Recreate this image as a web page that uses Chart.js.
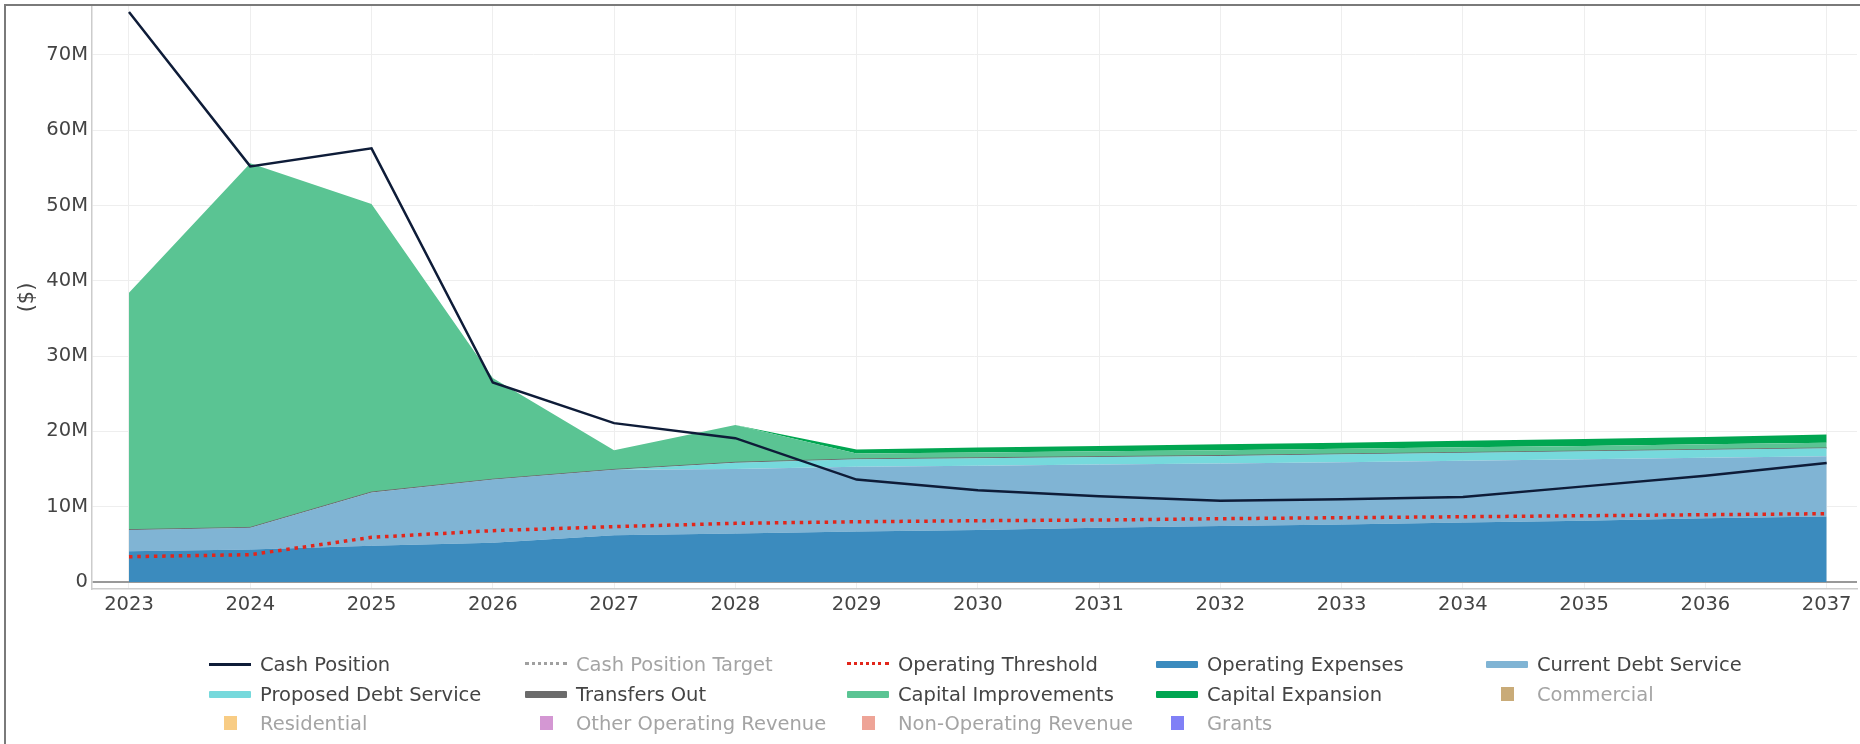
<!DOCTYPE html>
<html>
<head>
<meta charset="utf-8">
<script src="https://cdn.jsdelivr.net/npm/chart.js@4.4.1/dist/chart.umd.min.js"></script>
<style>
  html, body { margin: 0; padding: 0; background: #fff; }
  #wrap { position: relative; width: 1860px; height: 744px; overflow: hidden; }
  #frame { position: absolute; left: 4px; top: 4px; right: -10px; bottom: -10px;
           border-left: 2px solid #7a7a7a; border-top: 2px solid #7a7a7a; pointer-events: none; }
  #legend { position: absolute; left: 0; top: 0; width: 1860px; height: 744px; pointer-events: none;
            font-family: "DejaVu Sans", Verdana, sans-serif; font-size: 19.5px; color: #444; }
  .item { position: absolute; height: 26px; display: flex; align-items: center; white-space: nowrap;
          pointer-events: auto; cursor: pointer; }
  .item.off span { color: #a4a4a4; }
  .sym { width: 42px; height: 26px; margin-right: 9px; position: relative; }
</style>
</head>
<body>
<div id="wrap">
  <canvas id="cashChart" width="1860" height="744"></canvas>
  <div id="legend"></div>
  <div id="frame"></div>
</div>
<script>
// Years on the x axis
let years = [2023, 2024, 2025, 2026, 2027, 2028, 2029, 2030, 2031, 2032, 2033, 2034, 2035, 2036, 2037];

// Lines ($M)
let cashPosition       = [75.7, 55.2, 57.6, 26.5, 21.1, 19.1, 13.6, 12.2, 11.4, 10.8, 11.0, 11.3, 12.7, 14.1, 15.8];
let operatingThreshold = [3.36, 3.63, 5.93, 6.82, 7.35, 7.79, 8.0, 8.14, 8.23, 8.41, 8.54, 8.67, 8.8, 8.94, 9.07];

// Stacked areas ($M)
let operatingExpenses   = [4.1, 4.3, 4.8, 5.2, 6.2, 6.45, 6.7, 6.9, 7.2, 7.45, 7.65, 7.9, 8.15, 8.45, 8.7];
let currentDebtService  = [2.8, 2.9, 7.1, 8.4, 8.7, 8.55, 8.6, 8.55, 8.4, 8.3, 8.25, 8.2, 8.15, 8.05, 8.0];
let proposedDebtService = [0, 0, 0, 0, 0, 0.85, 1.0, 1.0, 1.0, 1.0, 1.05, 1.05, 1.05, 1.05, 1.05];
let transfersOut        = [0.05, 0.05, 0.05, 0.05, 0.05, 0.05, 0.05, 0.05, 0.05, 0.05, 0.05, 0.05, 0.05, 0.05, 0.05];
let capitalImprovements = [31.45, 48.35, 38.25, 13.45, 2.55, 4.95, 0.7, 0.7, 0.7, 0.7, 0.7, 0.7, 0.65, 0.7, 0.7];
let capitalExpansion    = [0, 0, 0, 0, 0, 0, 0.55, 0.65, 0.7, 0.8, 0.8, 0.85, 0.95, 0.95, 1.1];

// Y ticks
let yTicks = [0, 10, 20, 30, 40, 50, 60, 70];

// Legend grid
let legendCols = [209, 525, 847, 1156, 1486];
let legendRows = [664, 694, 723];

function pts(vals) {
  return years.map((y, i) => ({ x: y, y: vals[i] * 1e6 }));
}

function area(label, vals, color, fill) {
  return {
    label, data: pts(vals), stack: 'costs', fill,
    backgroundColor: color, borderColor: color, borderWidth: 0,
    pointRadius: 0, sym: 'area'
  };
}

function hiddenBar(label, color) {
  return { label, data: [], hidden: true, stack: label, backgroundColor: color,
           borderColor: color, sym: 'square' };
}

let datasets = [
  { label: 'Cash Position', data: pts(cashPosition), stack: 'cash', fill: false,
    borderColor: '#0e1c38', backgroundColor: '#0e1c38', borderWidth: 2.5, pointRadius: 0, sym: 'line' },
  { label: 'Cash Position Target', data: [], hidden: true, stack: 'target', fill: false,
    borderColor: '#a0a0a0', backgroundColor: '#a0a0a0', borderWidth: 3, borderDash: [3, 4],
    pointRadius: 0, sym: 'dot' },
  { label: 'Operating Threshold', data: pts(operatingThreshold), stack: 'threshold', fill: false,
    borderColor: '#e2261b', backgroundColor: '#e2261b', borderWidth: 3.5, borderDash: [3.5, 4.8],
    borderCapStyle: 'butt', pointRadius: 0, sym: 'dot' },
  area('Operating Expenses', operatingExpenses, '#3b8bbe', 'origin'),
  area('Current Debt Service', currentDebtService, '#80b4d4', '-1'),
  area('Proposed Debt Service', proposedDebtService, '#76d9dc', '-1'),
  Object.assign(area('Transfers Out', transfersOut, '#6b6b6b', '-1'), { borderWidth: 1 }),
  area('Capital Improvements', capitalImprovements, '#5ac493', '-1'),
  area('Capital Expansion', capitalExpansion, '#00a651', '-1'),
  hiddenBar('Commercial', '#c9ab78'),
  hiddenBar('Residential', '#f8cc84'),
  hiddenBar('Other Operating Revenue', '#d497d3'),
  hiddenBar('Non-Operating Revenue', '#eea497'),
  hiddenBar('Grants', '#8080f6')
];

const font = { family: '"DejaVu Sans", Verdana, sans-serif', size: 19.5 };

let config = {
  type: 'line',
  data: { datasets },
  options: {
    responsive: false,
    animation: false,
    layout: { padding: { left: 0, right: 3, top: 6, bottom: 115 } },
    elements: { line: { tension: 0 } },
    plugins: { legend: { display: false }, tooltip: { enabled: true } },
    scales: {
      x: {
        type: 'linear', min: 2022.695, max: 2037.25,
        afterBuildTicks: s => { s.ticks = years.map(v => ({ value: v })); },
        afterFit: s => { s.height = 40; s.paddingLeft = 0; s.paddingRight = 0; },
        ticks: { color: '#444', font, padding: 4, callback: v => String(v), maxRotation: 0 },
        grid: { color: '#eeeeee', drawTicks: false },
        border: { color: '#cccccc', width: 1.5 }
      },
      y: {
        stacked: true, min: -0.93e6, max: 76.5e6,
        afterBuildTicks: s => { s.ticks = yTicks.map(v => ({ value: v * 1e6 })); },
        afterFit: s => { s.width = 92; s.paddingTop = 0; s.paddingBottom = 0; },
        ticks: { color: '#444', font, padding: 4, callback: v => v === 0 ? '0' : (v / 1e6) + 'M' },
        grid: {
          drawTicks: false,
          color: c => c.tick && c.tick.value === 0 ? '#999999' : '#eeeeee',
          lineWidth: c => c.tick && c.tick.value === 0 ? 2 : 1
        },
        border: { color: '#cccccc', width: 1.5 },
        title: { display: true, text: '($)', color: '#444',
                 font: { family: font.family, size: 21 }, padding: { top: 15 } }
      }
    }
  }
};

let cashChart = new Chart(document.getElementById('cashChart'), config);

// Legend laid out on a fixed grid like the original
function symbolHtml(ds) {
  const c = ds.borderColor;
  if (ds.sym === 'line')
    return `<div style="position:absolute;left:0;top:12px;width:42px;height:2.5px;background:${c}"></div>`;
  if (ds.sym === 'dot')
    return `<div style="position:absolute;left:0;top:11px;width:42px;height:0;border-top:3.5px dotted ${c}"></div>`;
  if (ds.sym === 'area')
    return `<div style="position:absolute;left:0;top:9.5px;width:42px;height:7px;border-radius:1px;background:${ds.backgroundColor}"></div>`;
  return `<div style="position:absolute;left:15px;top:6px;width:13px;height:14px;background:${ds.backgroundColor}"></div>`;
}

function buildLegend() {
  const box = document.getElementById('legend');
  box.innerHTML = '';
  cashChart.data.datasets.forEach((ds, i) => {
    const col = i % legendCols.length;
    const row = Math.floor(i / legendCols.length);
    const el = document.createElement('div');
    el.className = 'item' + (cashChart.isDatasetVisible(i) ? '' : ' off');
    el.style.left = legendCols[col] + 'px';
    el.style.top = (legendRows[row] - 13) + 'px';
    el.innerHTML = `<div class="sym">${symbolHtml(ds)}</div><span>${ds.label}</span>`;
    el.onclick = () => {
      cashChart.setDatasetVisibility(i, !cashChart.isDatasetVisible(i));
      cashChart.update();
      buildLegend();
    };
    box.appendChild(el);
  });
}
buildLegend();
</script>
</body>
</html>
